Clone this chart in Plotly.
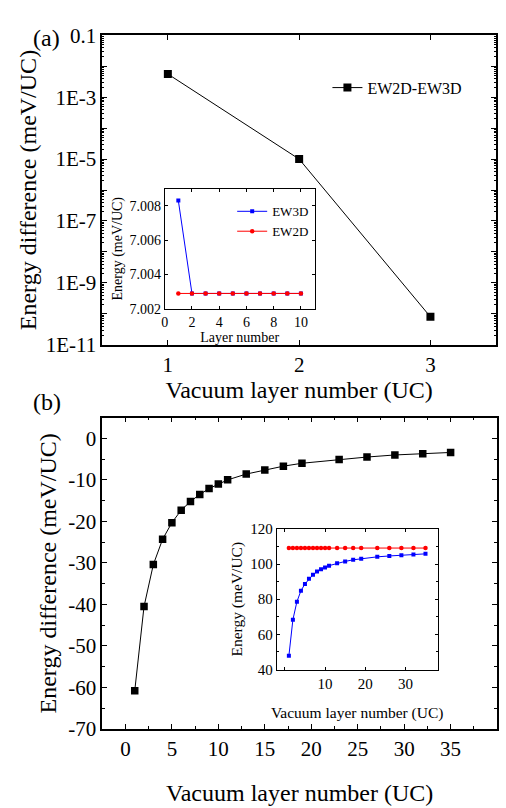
import plotly.graph_objects as go

# ---------------- data ----------------
# panel (a) main
a_x = [1, 2, 3]
a_diff = [5.6e-3, 1.0e-5, 8.0e-11]
a_name = "EW2D-EW3D"

# panel (a) inset
ai_x = [1, 2, 3, 4, 5, 6, 7, 8, 9, 10]
ai_ew3d = [7.0083, 7.0029, 7.0029, 7.0029, 7.0029, 7.0029, 7.0029, 7.0029, 7.0029, 7.0029]
ai_ew2d = [7.0029, 7.0029, 7.0029, 7.0029, 7.0029, 7.0029, 7.0029, 7.0029, 7.0029, 7.0029]

# panel (b) main
b_x = [1, 2, 3, 4, 5, 6, 7, 8, 9, 10, 11, 13, 15, 17, 19, 23, 26, 29, 32, 35]
b_diff = [-60.8, -40.5, -30.4, -24.3, -20.3, -17.3, -15.2, -13.5, -12.1, -11.0,
          -10.0, -8.6, -7.6, -6.7, -6.0, -5.1, -4.5, -4.0, -3.7, -3.4]

# panel (b) inset
bi_ew3d = [47.8, 68.4, 78.6, 84.8, 88.7, 91.6, 93.9, 95.7, 97.0, 98.1,
           99.1, 100.4, 101.5, 102.4, 103.0, 104.1, 104.6, 105.0, 105.4, 105.8]
bi_ew2d = [109.1] * 20

# tick labels
log_major = [1e-11, 1e-10, 1e-9, 1e-8, 1e-7, 1e-6, 1e-5, 1e-4, 1e-3, 1e-2, 1e-1]
log_text = ["1E-11", "", "1E-9", "", "1E-7", "", "1E-5", "", "1E-3", "", "0.1"]
b_yticks = [-70, -60, -50, -40, -30, -20, -10, 0]
b_ytext = ["-70", "-60", "-50", "-40", "-30", "-20", "-10", "0"]

FONT = "Liberation Serif, Times New Roman, Times, serif"
W, H = 506, 808

def px_x(p):
    return p / W

def px_y(p):
    return 1 - p / H

fig = go.Figure()

fig.add_trace(go.Scatter(x=a_x, y=a_diff, mode="lines+markers", name=a_name,
                         line=dict(color="black", width=1),
                         marker=dict(symbol="square", size=8, color="black"),
                         xaxis="x", yaxis="y", legend="legend"))
fig.add_trace(go.Scatter(x=ai_x, y=ai_ew3d, mode="lines+markers", name="EW3D",
                         line=dict(color="#0000ff", width=1),
                         marker=dict(symbol="square", size=4, color="#0000ff"),
                         xaxis="x2", yaxis="y2", legend="legend2"))
fig.add_trace(go.Scatter(x=ai_x, y=ai_ew2d, mode="lines+markers", name="EW2D",
                         line=dict(color="#ff0000", width=1),
                         marker=dict(symbol="circle", size=4.5, color="#ff0000"),
                         xaxis="x2", yaxis="y2", legend="legend2"))
fig.add_trace(go.Scatter(x=b_x, y=b_diff, mode="lines+markers", showlegend=False,
                         line=dict(color="black", width=1),
                         marker=dict(symbol="square", size=7.5, color="black"),
                         xaxis="x3", yaxis="y3"))
fig.add_trace(go.Scatter(x=b_x, y=bi_ew2d, mode="lines+markers", showlegend=False,
                         line=dict(color="#ff0000", width=1),
                         marker=dict(symbol="circle", size=4.5, color="#ff0000"),
                         xaxis="x4", yaxis="y4"))
fig.add_trace(go.Scatter(x=b_x, y=bi_ew3d, mode="lines+markers", showlegend=False,
                         line=dict(color="#0000ff", width=1),
                         marker=dict(symbol="square", size=4, color="#0000ff"),
                         xaxis="x4", yaxis="y4"))

ax_common = dict(showline=True, linecolor="black", mirror="allticks", ticks="inside",
                 tickcolor="black", showgrid=False, zeroline=False,
                 tickfont=dict(family=FONT, size=21, color="black"))

main_line = dict(linewidth=1.5, tickwidth=1.2, ticklen=5)
inset_line = dict(linewidth=1, tickwidth=1, ticklen=3)

minor_log = [k * 10.0 ** e for e in range(-11, -1) for k in range(2, 10)]

fig.update_layout(
    width=W, height=H,
    margin=dict(l=0, r=0, t=0, b=0),
    paper_bgcolor="white", plot_bgcolor="white",
    font=dict(family=FONT, color="black"),
    xaxis=dict(**ax_common, **main_line, domain=[px_x(99), px_x(496)], range=[0.5, 3.5],
               tickvals=[1, 2, 3], anchor="y",
               title=dict(text="Vacuum layer number (UC)", font=dict(family=FONT, size=24), standoff=5)),
    yaxis=dict(**ax_common, **main_line, domain=[px_y(343), px_y(24)], type="log", range=[-11, -1],
               tickvals=log_major, ticktext=log_text, anchor="x",
               minor=dict(tickvals=minor_log, ticklen=2.5, tickwidth=0.8, ticks="inside", tickcolor="black"),
               title=dict(text="Energy difference (meV/UC)", font=dict(family=FONT, size=24), standoff=2)),
    xaxis2=dict(**{**ax_common, "tickfont": dict(family=FONT, size=14, color="black")}, **inset_line,
                domain=[px_x(162), px_x(313)], range=[0, 11], tickvals=[0, 2, 4, 6, 8, 10], anchor="y2",
                title=dict(text="Layer number", font=dict(family=FONT, size=14), standoff=1)),
    yaxis2=dict(**{**ax_common, "tickfont": dict(family=FONT, size=14, color="black")}, **inset_line,
                domain=[px_y(306), px_y(182)], range=[7.002, 7.009],
                tickvals=[7.002, 7.004, 7.006, 7.008], ticktext=["7.002", "7.004", "7.006", "7.008"],
                anchor="x2",
                title=dict(text="Energy (meV/UC)", font=dict(family=FONT, size=14), standoff=3)),
    xaxis3=dict(**ax_common, **main_line, domain=[px_x(99), px_x(497)], range=[-2.5, 40],
                tickvals=[0, 5, 10, 15, 20, 25, 30, 35, 40], anchor="y3",
                minor=dict(dtick=2.5, tick0=0, ticklen=3, tickwidth=1, ticks="inside", tickcolor="black"),
                title=dict(text="Vacuum layer number (UC)", font=dict(family=FONT, size=24), standoff=24)),
    yaxis3=dict(**ax_common, **main_line, domain=[px_y(739), px_y(418)], range=[-70, 5],
                tickvals=b_yticks, ticktext=b_ytext, anchor="x3",
                minor=dict(dtick=5, tick0=0, ticklen=3, tickwidth=1, ticks="inside", tickcolor="black"),
                title=dict(text="Energy difference (meV/UC)", font=dict(family=FONT, size=24), standoff=5)),
    xaxis4=dict(**{**ax_common, "tickfont": dict(family=FONT, size=15, color="black")}, **inset_line,
                domain=[px_x(275), px_x(437)], range=[-2, 38],
                tickvals=[0, 10, 20, 30], ticktext=["", "10", "20", "30"], anchor="y4",
                title=dict(text="Vacuum layer number (UC)", font=dict(family=FONT, size=15.5), standoff=16)),
    yaxis4=dict(**{**ax_common, "tickfont": dict(family=FONT, size=15, color="black")}, **inset_line,
                domain=[px_y(677.7), px_y(532.7)], range=[40, 120],
                tickvals=[40, 60, 80, 100, 120], anchor="x4",
                minor=dict(dtick=10, tick0=0, ticklen=2, tickwidth=1, ticks="inside", tickcolor="black"),
                title=dict(text="Energy (meV/UC)", font=dict(family=FONT, size=15.5), standoff=3)),
    legend=dict(x=px_x(326), y=px_y(78), xanchor="left", yanchor="middle",
                bgcolor="rgba(0,0,0,0)", font=dict(family=FONT, size=16, color="black"),
                itemwidth=30, tracegroupgap=0),
    legend2=dict(x=px_x(230), y=px_y(190), xanchor="left", yanchor="top",
                 bgcolor="rgba(0,0,0,0)", font=dict(family=FONT, size=13, color="black"),
                 itemwidth=30, tracegroupgap=0),
    annotations=[
        dict(text="(a)", x=px_x(27), y=px_y(11), xref="paper", yref="paper", showarrow=False,
             font=dict(family=FONT, size=24, color="black")),
        dict(text="(b)", x=px_x(27), y=px_y(402), xref="paper", yref="paper", showarrow=False,
             font=dict(family=FONT, size=24, color="black")),
    ],
)

fig.write_html("out.html")
